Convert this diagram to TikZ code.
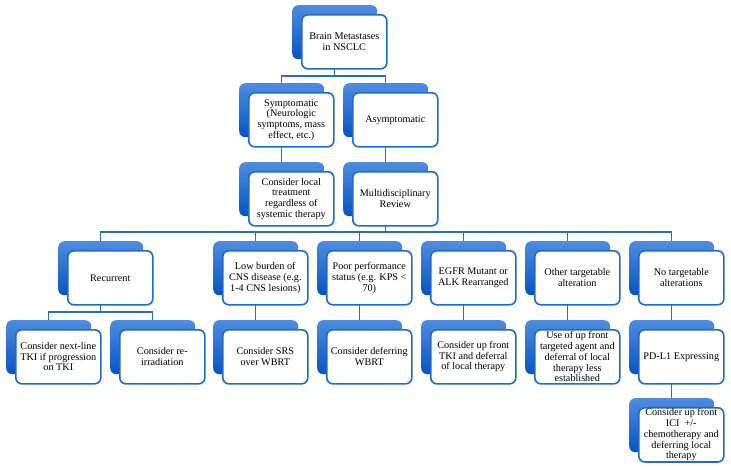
\documentclass[tikz,border=0pt]{standalone}
\usepackage{fontspec}
\setmainfont{Liberation Serif}
\usetikzlibrary{backgrounds}
\definecolor{bord}{RGB}{28,108,205}
\definecolor{backtop}{RGB}{80,140,222}
\definecolor{backbot}{RGB}{6,84,198}
\definecolor{conncol}{RGB}{36,110,200}
\tikzset{
 backbox/.style={rounded corners=6pt, top color=backtop, bottom color=backbot, draw=none,
   minimum width=85pt, minimum height=54pt, inner sep=0pt, anchor=north west},
 frontbox/.style={rounded corners=6pt, fill=white, draw=bord, line width=1.6pt,
   minimum width=85pt, minimum height=54pt, inner sep=1pt, anchor=north west,
   align=center, font=\fontsize{10.2}{10.7}\selectfont},
 link/.style={draw=conncol, line width=1.5pt}
}
\newcommand\unitbox[4]{%
  \node[backbox] (#1-b) at (#2,#3) {};
  \node[frontbox] (#1) at ([shift={(9,9)}]#1-b.north west) {#4};
}
\begin{document}
\begin{tikzpicture}[x=1pt,y=-1pt]
\useasboundingbox (0,0) rectangle (731,469);
\coordinate (bar0) at (0,76);
\coordinate (bar1) at (0,232);
\coordinate (bar2) at (0,312);
% row 0
\unitbox{top}{292}{5}{Brain Metastases\\in NSCLC}
% row 1
\unitbox{sym}{239}{83}{Symptomatic\\(Neurologic\\symptoms, mass\\effect, etc.)}
\unitbox{asy}{343}{83}{Asymptomatic}
% row 2
\unitbox{loc}{239}{162}{Consider local\\treatment\\regardless of\\systemic therapy}
\unitbox{mul}{343}{162}{Multidisciplinary\\Review}
% row 3
\unitbox{rec}{58}{241}{Recurrent}
\unitbox{low}{213}{241}{Low burden of\\CNS disease (e.g.\\1-4 CNS lesions)}
\unitbox{poor}{317}{241}{Poor performance\\status (e.g. KPS <\\70)}
\unitbox{egfr}{421}{241}{EGFR Mutant or\\ALK Rearranged}
\unitbox{oth}{525}{241}{Other targetable\\alteration}
\unitbox{no}{629}{241}{No targetable\\alterations}
% row 4
\unitbox{nxt}{6}{320}{Consider next-line\\TKI if progression\\on TKI}
\unitbox{rei}{110}{320}{Consider re-\\irradiation}
\unitbox{srs}{213}{320}{Consider SRS\\over WBRT}
\unitbox{def}{317}{320}{Consider deferring\\WBRT}
\unitbox{tki}{421}{320}{Consider up front\\TKI and deferral\\of local therapy}
\unitbox{use}{525}{320}{Use of up front\\targeted agent and\\deferral of local\\therapy less\\established}
\unitbox{pdl}{629}{320}{PD-L1 Expressing}
% row 5
\unitbox{ici}{629}{398}{Consider up front\\ICI\ \ +/-\\chemotherapy and\\deferring local\\therapy}
\begin{scope}[on background layer]
\foreach \c in {sym,asy}
  \draw[link] (top-b.center) -- (top-b.center |- bar0) -| (\c-b.center);
\draw[link] (sym-b.center) -- (loc-b.center);
\draw[link] (asy-b.center) -- (mul-b.center);
\foreach \c in {rec,low,poor,egfr,oth,no}
  \draw[link] (mul-b.center) -- (mul-b.center |- bar1) -| (\c-b.center);
\foreach \c in {nxt,rei}
  \draw[link] (rec-b.center) -- (rec-b.center |- bar2) -| (\c-b.center);
\draw[link] (low-b.center) -- (srs-b.center);
\draw[link] (poor-b.center) -- (def-b.center);
\draw[link] (egfr-b.center) -- (tki-b.center);
\draw[link] (oth-b.center) -- (use-b.center);
\draw[link] (no-b.center) -- (pdl-b.center);
\draw[link] (pdl-b.center) -- (ici-b.center);
\end{scope}
\end{tikzpicture}
\end{document}
